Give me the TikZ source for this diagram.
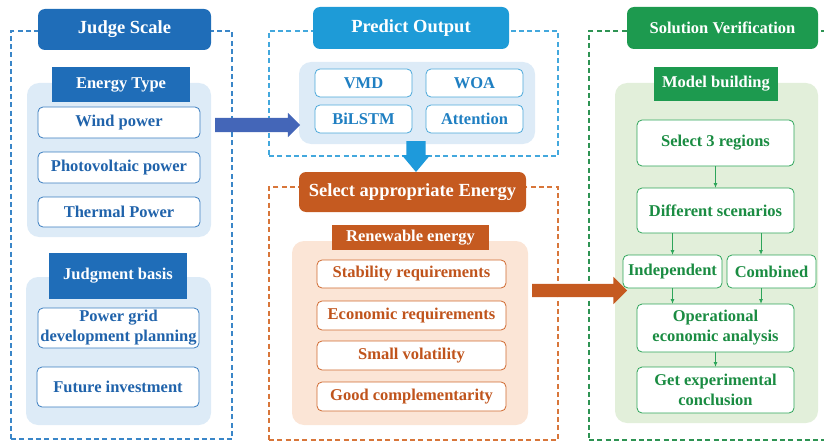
\documentclass[tikz,border=0pt]{standalone}
\usepackage{fontspec}
\setmainfont{Liberation Serif}
\usetikzlibrary{shapes.arrows,arrows.meta}
\definecolor{jsBlue}{HTML}{1F6DB8}
\definecolor{ltBlue}{HTML}{DDEBF7}
\definecolor{blueText}{HTML}{2063AB}
\definecolor{blueBorder}{HTML}{3A7DC0}
\definecolor{dashBlue}{HTML}{3A86C8}
\definecolor{predHead}{HTML}{1E9BD7}
\definecolor{predText}{HTML}{1F7FC2}
\definecolor{predBorder}{HTML}{4BA8DA}
\definecolor{predDash}{HTML}{43A8DD}
\definecolor{orHead}{HTML}{C55A20}
\definecolor{orPanel}{HTML}{FBE5D6}
\definecolor{orText}{HTML}{C0541C}
\definecolor{orBorder}{HTML}{D06A30}
\definecolor{orDash}{HTML}{D8763A}
\definecolor{grHead}{HTML}{1D9A4F}
\definecolor{grPanel}{HTML}{E2EFDA}
\definecolor{grText}{HTML}{1A8C42}
\definecolor{grBorder}{HTML}{2EA55A}
\definecolor{grDash}{HTML}{2E9353}
\definecolor{blueArrow}{HTML}{4466B8}
\definecolor{downArrow}{HTML}{1E9ADB}
\begin{document}
\begin{tikzpicture}[x=1pt,y=-1pt,
  every node/.style={inner sep=0pt,outer sep=0pt,align=center},
  sz/.style 2 args={minimum width=#1pt,minimum height=#2pt},
  body/.style={font=\fontsize{16.5}{20}\selectfont\bfseries},
  headfont/.style={font=\fontsize{18.5}{22}\selectfont\bfseries},
  frame/.style={draw=#1,line width=1.3pt,dash pattern=on 5pt off 3.3pt},
  panel/.style={fill=#1,rounded corners=12pt},
  header/.style={fill=#1,rounded corners=7pt,text=white,headfont},
  label/.style={fill=#1,text=white,body},
  itembox/.style 2 args={draw=#1,fill=white,text=#2,rounded corners=5pt,line width=0.8pt,body},
  bigarrow/.style={single arrow,fill=#1,draw=none,minimum width=0pt,inner xsep=0pt,anchor=tail,single arrow tip angle=90},
  garrow/.style={draw=grBorder,line width=0.9pt,-{Latex[length=5pt,width=4pt]}}
]
\useasboundingbox (0,0) rectangle (824,441);
% frames
\node[frame=dashBlue,sz={221}{408}] (frameL) at (121.5,235) {};
\node[frame=predDash,sz={289}{125}] (frameP) at (413.5,93.5) {};
\node[frame=orDash,sz={289}{253}] (frameO) at (413.5,313.5) {};
\node[frame=grDash,sz={250}{409}] (frameS) at (714,235.5) {};
% ---- left column
\node[header=jsBlue,sz={173}{41}] (judge) at (124.5,29.5) {Judge Scale};
\node[panel=ltBlue,sz={184}{154}] (etpanel) at (119,160) {};
\node[label=jsBlue,sz={138}{35}] (etlabel) at (121,85) {Energy Type};
\node[itembox={blueBorder}{blueText},sz={162}{31}] (wind) at (119,122.5) {Wind power};
\node[itembox={blueBorder}{blueText},sz={162}{31}] (pv) at (119,167.5) {Photovoltaic power};
\node[itembox={blueBorder}{blueText},sz={162}{30}] (thermal) at (119,212) {Thermal Power};
\node[panel=ltBlue,sz={185}{148}] (jbpanel) at (118.5,351) {};
\node[label=jsBlue,sz={138}{46}] (jblabel) at (118,276) {Judgment basis};
\node[itembox={blueBorder}{blueText},sz={161}{40}] (grid) at (118.5,328) {Power grid\\development planning};
\node[itembox={blueBorder}{blueText},sz={162}{40}] (future) at (118,387) {Future investment};
% ---- predict output
\node[header=predHead,sz={196}{42}] (predict) at (411,28) {Predict Output};
\node[panel=ltBlue,sz={236}{82}] (ppanel) at (417,103) {};
\node[itembox={predBorder}{predText},sz={97}{28}] (vmd) at (363.5,83) {VMD};
\node[itembox={predBorder}{predText},sz={97}{28}] (woa) at (474.5,83) {WOA};
\node[itembox={predBorder}{predText},sz={97}{28}] (bilstm) at (363.5,119) {BiLSTM};
\node[itembox={predBorder}{predText},sz={97}{28}] (attn) at (474.5,119) {Attention};
% ---- select energy
\node[header=orHead,sz={227}{40}] (select) at (412.5,192) {Select appropriate Energy};
\node[panel=orPanel,sz={236}{184}] (opanel) at (410,333) {};
\node[label=orHead,sz={157}{25}] (renew) at (410.5,237.5) {Renewable energy};
\node[itembox={orBorder}{orText},sz={189}{28}] (stab) at (411.5,274) {Stability requirements};
\node[itembox={orBorder}{orText},sz={189}{29}] (econ) at (411.5,315.5) {Economic requirements};
\node[itembox={orBorder}{orText},sz={189}{29}] (small) at (411.5,355.5) {Small volatility};
\node[itembox={orBorder}{orText},sz={189}{29}] (good) at (411.5,396.5) {Good complementarity};
% ---- solution verification
\node[header=grHead,sz={191}{42},body] (solution) at (722.5,28) {Solution Verification};
\node[panel=grPanel,sz={203}{340}] (gpanel) at (716.5,253) {};
\node[label=grHead,sz={124}{34}] (model) at (716,84) {Model building};
\node[itembox={grBorder}{grText},sz={157}{46}] (sel3) at (715.5,143) {Select 3 regions};
\node[itembox={grBorder}{grText},sz={157}{45}] (diff) at (715.5,210.5) {Different scenarios};
\node[itembox={grBorder}{grText},sz={99}{33}] (indep) at (672.5,271.5) {Independent};
\node[itembox={grBorder}{grText},sz={89}{33}] (comb) at (771.5,271.5) {Combined};
\node[itembox={grBorder}{grText},sz={157}{48}] (oper) at (715.5,328) {Operational\\economic analysis};
\node[itembox={grBorder}{grText},sz={157}{46}] (getexp) at (715.5,390) {Get experimental\\conclusion};
% green connectors
\coordinate (dR) at ([xshift=45.5pt]diff.south);
\draw[garrow] (sel3.south) -- (diff.north);
\draw[garrow] (diff.south -| indep.north) -- (indep.north);
\draw[garrow] (dR) -- (dR |- comb.north);
\draw[garrow] (indep.south) -- (indep.south |- oper.north);
\draw[garrow] (dR |- comb.south) -- (dR |- oper.north);
\draw[garrow] (oper.south) -- (getexp.north);
% big arrows
\node[bigarrow=blueArrow,inner ysep=7pt,single arrow head extend=5pt,minimum height=85pt] (arrA) at (215,125) {};
\node[bigarrow=downArrow,inner ysep=9.5pt,single arrow head extend=4.5pt,minimum height=31pt,single arrow tip angle=80,rotate=-90] (arrB) at (416,141) {};
\node[bigarrow=orHead,inner ysep=6.5pt,single arrow head extend=7pt,minimum height=95pt] (arrC) at (532,290.5) {};
\end{tikzpicture}
\end{document}
